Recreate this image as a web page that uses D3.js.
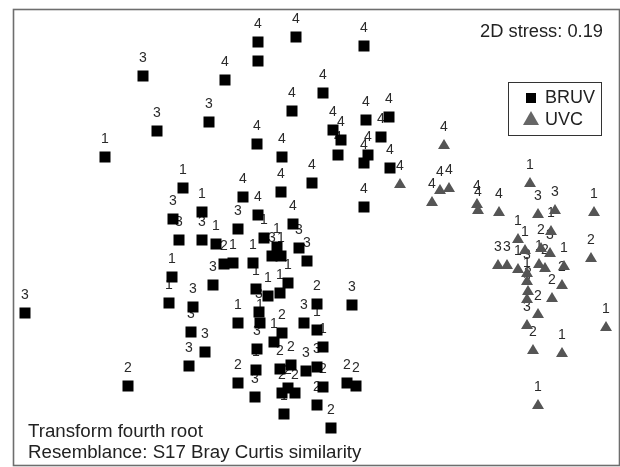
<!DOCTYPE html>
<html>
<head>
<meta charset="utf-8">
<script src="https://cdn.jsdelivr.net/npm/d3@7"></script>
<style>
  html, body { margin: 0; padding: 0; background: #fff; }
  svg { display: block; will-change: transform; }
  text { font-family: "Liberation Sans", Arial, Helvetica, sans-serif; }
</style>
</head>
<body>
<svg id="chart" width="620" height="467"></svg>
<script>
// nMDS ordination coordinates (MDS1, MDS2) and sample labels for each method
const bruvX = [-1.67,-1.53,-2.05,-1.01,-0.52,-0.52,-0.14,0.54,-0.85,0.13,-0.18,0.56,0.79,-0.53,-0.28,0.23,0.31,0.28,0.71,0.58,0.54,0.80,0.54,0.02,-0.29,-0.67,-0.52,-0.17,-1.27,-1.37,-1.08,-0.72,-0.46,-0.33,-0.38,-0.29,-0.11,-0.03,-1.31,-1.08,-0.94,-0.86,-0.77,-0.97,-0.57,-1.38,-1.41,-1.17,-0.22,-0.54,-0.42,-0.30,0.07,0.42,-2.85,-1.82,-1.19,-1.05,-1.21,-0.72,-0.51,-0.50,-0.53,-0.54,-0.55,-0.72,-0.28,-0.36,-0.30,-0.19,-0.28,-0.22,-0.15,-0.26,-0.06,0.07,0.13,-0.04,0.07,0.13,0.07,0.21,0.37,0.46];
const bruvY = [1.54,0.99,0.73,1.08,1.88,1.69,1.93,1.84,1.50,1.37,1.19,1.10,1.13,0.86,0.73,1.00,0.90,0.75,0.93,0.75,0.67,0.62,0.23,0.47,0.38,0.33,0.15,0.06,0.42,0.11,0.18,0.01,-0.08,-0.17,-0.26,-0.26,-0.18,-0.31,-0.10,-0.10,-0.14,-0.34,-0.33,-0.55,-0.33,-0.47,-0.73,-0.77,-0.53,-0.59,-0.66,-0.63,-0.74,-0.75,-0.83,-1.56,-1.02,-1.22,-1.36,-0.93,-0.82,-0.93,-1.19,-1.40,-1.67,-1.53,-1.03,-1.12,-1.39,-1.35,-1.63,-1.58,-1.63,-1.84,-0.93,-1.00,-1.17,-1.41,-1.37,-1.57,-1.75,-1.98,-1.53,-1.56];
const bruvLabel = ["3","3","1","3","4","4","4","4","4","4","4","4","4","4","4","4","4","4","4","4","4","4","4","4","4","4","4","4","1","3","1","3","1","1","3","1","3","3","3","3","1","2","1","3","1","1","1","3","1","1","1","1","2","3","3","2","3","3","3","1","3","1","3","1","3","2","2","1","2","2","2","2","2","1","3","1","1","3","3","2","2","2","2","2"];

const uvcX = [1.34,0.90,1.22,1.30,1.39,1.67,1.68,1.89,2.20,2.28,2.45,2.84,2.41,2.08,2.15,2.31,2.40,2.29,2.35,2.54,2.52,2.81,1.88,1.97,2.08,2.17,2.17,2.18,2.17,2.42,2.28,2.17,2.23,2.52,2.28,2.96];
const uvcY = [0.86,0.47,0.29,0.41,0.43,0.27,0.21,0.19,0.48,0.17,0.21,0.19,0.00,-0.08,-0.19,-0.17,-0.22,-0.33,-0.37,-0.35,-0.54,-0.27,-0.34,-0.34,-0.38,-0.42,-0.50,-0.60,-0.68,-0.67,-0.83,-0.94,-1.19,-1.22,-1.74,-0.96];
const uvcLabel = ["4","4","4","4","4","4","4","4","1","3","3","1","1","1","1","2","3","1","2","1","2","2","3","3","1","3","1","2","2","2","2","3","2","1","1","1"];

const methods = ["BRUV", "UVC"];
const stressText = "2D stress: 0.19";
const notes = ["Transform fourth root", "Resemblance: S17 Bray Curtis similarity"];

const W = 620, H = 467;
const svg = d3.select("#chart");

const x = d3.scaleLinear().domain([-3.1, 3.1]).range([0, W]);
const y = d3.scaleLinear().domain([2.3, -2.37]).range([0, H]);

const bruv = bruvX.map((v, i) => ({ x: v, y: bruvY[i], label: bruvLabel[i] }));
const uvc = uvcX.map((v, i) => ({ x: v, y: uvcY[i], label: uvcLabel[i] }));

// plot frame
svg.append("rect")
  .attr("x", 13.5).attr("y", 9.5)
  .attr("width", 606).attr("height", 456)
  .attr("fill", "none")
  .attr("stroke", "#6e6e6e")
  .attr("stroke-width", 1.6);

const sqSize = 11;
const triPath = (w, h) => `M0,${-h / 2}L${w / 2},${h / 2}L${-w / 2},${h / 2}Z`;

// sample labels sit above each symbol; symbols are drawn over them
const labelG = svg.append("g")
  .attr("font-size", 14)
  .attr("fill", "#2a2a2a")
  .attr("opacity", 0.999)
  .attr("text-anchor", "middle");

labelG.selectAll("text.b").data(bruv).join("text")
  .attr("class", "b")
  .attr("x", d => x(d.x))
  .attr("y", d => y(d.y) - 14)
  .text(d => d.label);

labelG.selectAll("text.u").data(uvc).join("text")
  .attr("class", "u")
  .attr("x", d => x(d.x))
  .attr("y", d => y(d.y) - 13)
  .text(d => d.label);

svg.append("g").selectAll("rect").data(bruv).join("rect")
  .attr("x", d => x(d.x) - sqSize / 2)
  .attr("y", d => y(d.y) - sqSize / 2)
  .attr("width", sqSize).attr("height", sqSize)
  .attr("fill", "#000");

svg.append("g").selectAll("path").data(uvc).join("path")
  .attr("transform", d => `translate(${x(d.x)},${y(d.y)})`)
  .attr("d", triPath(12, 10))
  .attr("fill", "#555");

const textG = svg.append("g").attr("opacity", 0.999);

// stress value
textG.append("text")
  .attr("x", 603).attr("y", 37)
  .attr("text-anchor", "end")
  .attr("font-size", 18.3)
  .attr("fill", "#222")
  .text(stressText);

// legend
const leg = textG.append("g");
leg.append("rect")
  .attr("x", 508.5).attr("y", 82.5)
  .attr("width", 93).attr("height", 53)
  .attr("fill", "#fff")
  .attr("stroke", "#333").attr("stroke-width", 1);
leg.append("rect")
  .attr("x", 526).attr("y", 93).attr("width", 10).attr("height", 10)
  .attr("fill", "#000");
leg.append("path")
  .attr("transform", "translate(531,118)")
  .attr("d", triPath(16, 14))
  .attr("fill", "#666");
leg.selectAll("text").data(methods).join("text")
  .attr("x", 545)
  .attr("y", (d, i) => 103 + i * 22)
  .attr("font-size", 18)
  .attr("fill", "#222")
  .text(d => d);

// analysis notes
textG.append("g").selectAll("text").data(notes).join("text")
  .attr("x", 28)
  .attr("y", (d, i) => 437 + i * 21)
  .attr("font-size", 18.7)
  .attr("fill", "#222")
  .text(d => d);
</script>
</body>
</html>
